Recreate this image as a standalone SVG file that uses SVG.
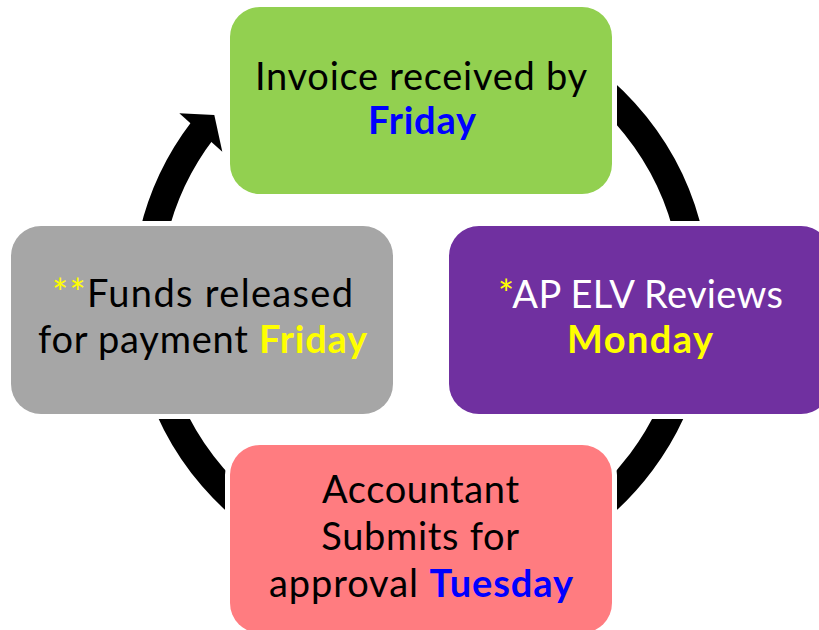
<svg xmlns="http://www.w3.org/2000/svg" width="819" height="630" viewBox="0 0 819 630">
  <style>
    .box { stroke: #FFFFFF; stroke-width: 10; paint-order: stroke; }
    .t { font-family: Lato, "Open Sans", "Liberation Sans", sans-serif; font-size: 38px; text-anchor: middle; fill: #000000; }
    .b { font-weight: bold; }
    .yellow { fill: #FFFF00; }
    .blue { fill: #0000FF; }
    .white { fill: #FFFFFF; }
    .ring { fill: none; stroke: #000000; stroke-width: 28; }
  </style>

  <!-- cycle arrow: ring around the centre, head pointing clockwise into the top step -->
  <g id="connectors">
    <path class="ring" d="M 421 22.5 A 275 275 0 1 1 202.8 130.1"/>
    <polygon points="179.3,113.3 214.3,115 222.3,151.7" fill="#000000"/>
  </g>

  <g id="node-invoice">
    <rect class="box" x="230" y="7" width="382" height="187" rx="30" ry="30" fill="#92D050"/>
    <text class="t" x="421" y="90" textLength="332">Invoice received by</text>
    <text class="t b blue" x="422" y="134" textLength="108">Friday</text>
  </g>

  <g id="node-ap-review">
    <rect class="box" x="449" y="226" width="382" height="188" rx="30" ry="30" fill="#7030A0"/>
    <text class="t white" x="640.5" y="308" textLength="285"><tspan class="yellow">*</tspan>AP ELV Reviews</text>
    <text class="t b yellow" x="640" y="353" textLength="146">Monday</text>
  </g>

  <g id="node-accountant">
    <rect class="box" x="230" y="445" width="382" height="188" rx="30" ry="30" fill="#FF7C80"/>
    <text class="t" x="420.5" y="503" textLength="197">Accountant</text>
    <text class="t" x="420.2" y="550" textLength="198">Submits for</text>
    <text class="t" x="421" y="597" textLength="304">approval <tspan class="b blue">Tuesday</tspan></text>
  </g>

  <g id="node-funds">
    <rect class="box" x="11" y="226" width="382" height="188" rx="30" ry="30" fill="#A6A6A6"/>
    <text class="t" x="202.5" y="307" textLength="301"><tspan class="yellow">**</tspan>Funds released</text>
    <text class="t" x="202.5" y="353" textLength="329">for payment <tspan class="b yellow">Friday</tspan></text>
  </g>
</svg>
